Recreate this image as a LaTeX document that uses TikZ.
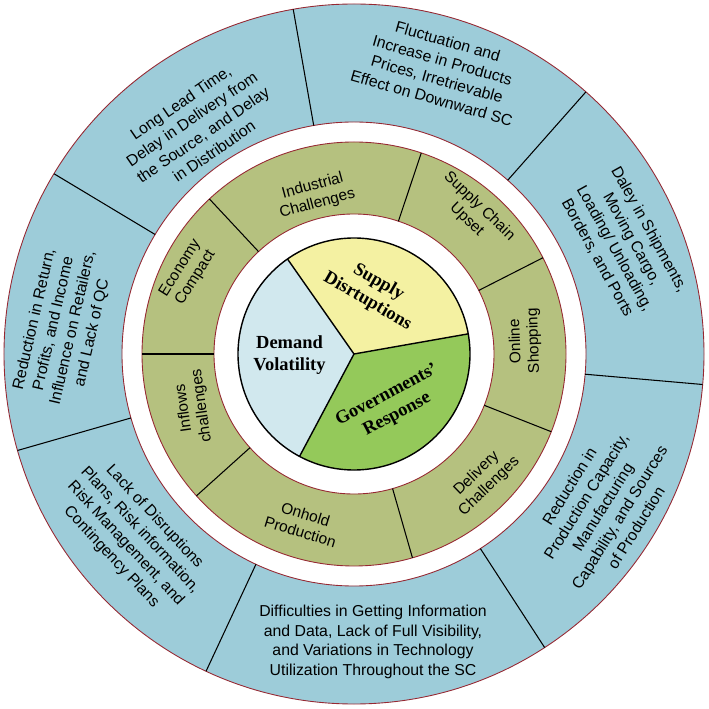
\documentclass[tikz,border=0pt]{standalone}
\usepackage{fontspec}
\setmainfont{Liberation Sans}
\newfontfamily\piefont{Liberation Serif}
\definecolor{ringblue}{RGB}{157,204,217}
\definecolor{ringgreen}{RGB}{181,193,127}
\definecolor{pieyellow}{RGB}{244,241,162}
\definecolor{pieblue}{RGB}{209,232,238}
\definecolor{piegreen}{RGB}{148,201,90}
\definecolor{rimred}{RGB}{150,40,50}
\begin{document}
\begin{tikzpicture}[inner sep=0pt,outer sep=0pt,
outertext/.style={align=center,font=\fontsize{9}{11.2}\selectfont},
ringtext/.style={align=center,font=\fontsize{8.8}{10.3}\selectfont},
pietext/.style={align=center,font=\piefont\bfseries\fontsize{10.5}{12.5}\selectfont},
rim/.style={draw=rimred,line width=0.5pt},
divider/.style={draw=black,line width=0.6pt}]
\useasboundingbox (-7.08,-7.10) rectangle (7.10,7.08);
\coordinate (hub) at (0,0);
% outer ring
\fill[ringblue,even odd rule] (hub) circle (7) (hub) circle (4.64);
\draw[rim] (hub) circle (7) (hub) circle (4.64);
\draw[divider] (48.5:4.64) -- (48.5:7);
\draw[divider] (100:4.64) -- (100:7);
\draw[divider] (149:4.64) -- (149:7);
\draw[divider] (196:4.64) -- (196:7);
\draw[divider] (245:4.64) -- (245:7);
\draw[divider] (303:4.64) -- (303:7);
\draw[divider] (355:4.64) -- (355:7);
% middle ring
\fill[ringgreen,even odd rule] (hub) circle (4.24) (hub) circle (2.8);
\draw[rim] (hub) circle (4.24) (hub) circle (2.8);
\draw[divider] (27:2.8) -- (27:4.24);
\draw[divider] (71.5:2.8) -- (71.5:4.24);
\draw[divider] (133:2.8) -- (133:4.24);
\draw[divider] (180:2.8) -- (180:4.24);
\draw[divider] (222:2.8) -- (222:4.24);
\draw[divider] (286:2.8) -- (286:4.24);
\draw[divider] (338.5:2.8) -- (338.5:4.24);
% pie
\fill[pieyellow] (hub) -- (10:2.32) arc[start angle=10,end angle=125,radius=2.32] -- cycle;
\fill[pieblue] (hub) -- (125:2.32) arc[start angle=125,end angle=242,radius=2.32] -- cycle;
\fill[piegreen] (hub) -- (242:2.32) arc[start angle=242,end angle=370,radius=2.32] -- cycle;
\draw[line width=0.8pt] (hub) circle (2.32);
\draw[line width=0.8pt] (hub) -- (10:2.32) (hub) -- (125:2.32) (hub) -- (242:2.32);
\draw (0.38,1.24) node[pietext,rotate=-30] (supply) {Supply\\Disrtuptions};
\draw (-1.29,-0.02) node[pietext] (demand) {Demand\\Volatility};
\draw (0.76,-1.02) node[pietext,rotate=28] (govt) {Governments’\\Response};
% middle ring labels
\draw (-0.78,3.18) node[ringtext,rotate=15] (industrial) {Industrial\\Challenges};
\draw (2.38,2.82) node[ringtext,rotate=-44] (upset) {Supply Chain\\Upset};
\draw (3.42,0.26) node[ringtext,rotate=92] (online) {Online\\Shopping};
\draw (2.58,-2.52) node[ringtext,rotate=44] (delivery) {Delivery\\Challenges};
\draw (-1.02,-3.38) node[ringtext,rotate=-17] (onhold) {Onhold\\Production};
\draw (-3.22,-1.06) node[ringtext,rotate=98] (inflows) {Inflows\\challenges};
\draw (-3.32,1.62) node[ringtext,rotate=58] (economy) {Economy\\Compact};
% outer ring labels
\draw (73.2:5.94) node[outertext,rotate=-16] (fluct) {Fluctuation and\\Increase in Products\\Prices, Irretrievable\\Effect on Downward SC};
\draw (124.6:5.52) node[outertext,rotate=34.5] (lead) {Long Lead Time,\\Delay in Delivery from\\the Source, and Delay\\in Distribution};
\draw (174.5:5.84) node[outertext,rotate=77] (retn) {Reduction in Return,\\Profits, and Income\\Influence on Retailers,\\and Lack of QC};
\draw (219.6:5.74) node[outertext,rotate=-47] (plans) {Lack of Disruptions\\Plans, Risk information,\\Risk Management, and\\Contingency Plans};
\draw (0.38,-5.76) node[outertext] (info) {Difficulties in Getting Information\\and Data, Lack of Full Visibility,\\and Variations in Technology\\Utilization Throughout the SC};
\draw (328.4:5.84) node[outertext,rotate=58] (capacity) {Reduction in\\Production Capacity,\\Manufacturing\\Capability, and Sources\\of Production};
\draw (22.3:5.82) node[outertext,rotate=-61] (shipments) {Daley in Shipments,\\Moving Cargo,\\Loading/ Unloading,\\Borders, and Ports};
\end{tikzpicture}
\end{document}
